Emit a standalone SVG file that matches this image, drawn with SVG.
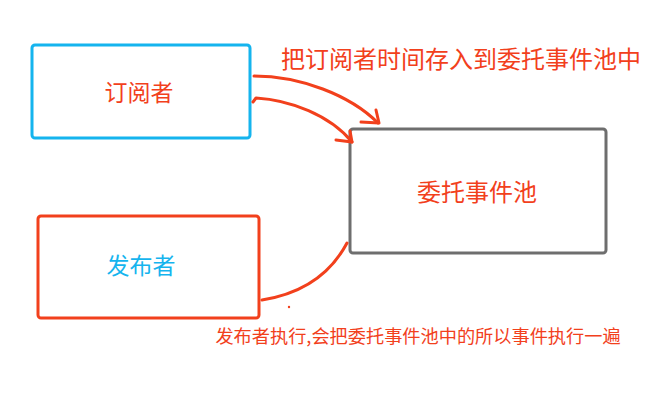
<svg xmlns="http://www.w3.org/2000/svg" width="661" height="407" viewBox="0 0 661 407">
<style>
.box{fill:#fff;stroke-width:3}
.t{font-family:"Noto Sans CJK SC","Noto Sans",sans-serif;text-anchor:middle;dominant-baseline:central}
.c{fill:none;stroke:#f2401c;stroke-width:3;stroke-linecap:round;stroke-linejoin:round}
</style>
<rect width="661" height="407" fill="#fff"/>
<g id="subscriber">
<rect class="box" x="32" y="45" width="218" height="93" rx="3" stroke="#15b4ee"/>
<text class="t" x="139" y="91" font-size="23" fill="#f2401c">订阅者</text>
</g>
<g id="pool">
<rect class="box" x="350" y="129" width="256" height="124" rx="3" stroke="#6e6e6e"/>
<text class="t" x="477" y="190" font-size="24" fill="#f2401c">委托事件池</text>
</g>
<g id="publisher">
<rect class="box" x="38" y="216" width="221" height="102" rx="3" stroke="#f2401c"/>
<text class="t" x="141" y="264" font-size="23" fill="#15b4ee">发布者</text>
</g>
<g id="connectors">
<path class="c" d="M254,76 C300,76 350,95 378,123"/>
<path class="c" d="M376,110 L379,123 L361,122"/>
<path class="c" d="M253,102 L256,98 C290,100 330,115 352,142"/>
<path class="c" d="M350,131 L352,142 L336,140"/>
<path class="c" d="M262,300 C300,294 330,275 347,243"/>
<circle cx="289" cy="307" r="1.2" fill="#f2401c"/>
</g>
<text class="t" x="461" y="57" font-size="24" fill="#f2401c">把订阅者时间存入到委托事件池中</text>
<text class="t" x="418" y="335" font-size="18.2" fill="#f2401c">发布者执行,会把委托事件池中的所以事件执行一遍</text>
</svg>
